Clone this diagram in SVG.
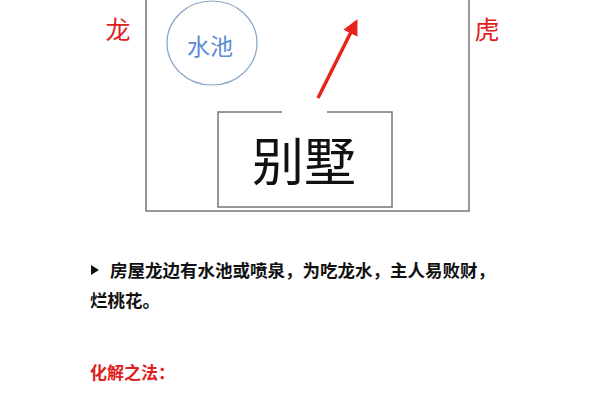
<svg xmlns="http://www.w3.org/2000/svg" width="600" height="400" viewBox="0 0 600 400">
<style>
.cjk{font-family:"Noto Sans CJK SC","Noto Sans CJK JP",sans-serif}
.red{fill:#e0201c}
.body{font-size:17.5px;fill:#111;font-weight:bold}
.box{fill:none;stroke:#777;stroke-width:1.5}
</style>
<defs>
<marker id="ah" viewBox="0 0 10 10" refX="8" refY="5" markerWidth="4.5" markerHeight="4.5" orient="auto">
<path d="M0,0 L10,5 L0,10 z" fill="#e8231c"/>
</marker>
</defs>
<rect width="600" height="400" fill="#fff"/>
<g id="plot">
<rect class="box" x="146" y="-5" width="323" height="216"/>
</g>
<g id="dragon"><text class="cjk red" x="118" y="39" font-size="25" text-anchor="middle">龙</text></g>
<g id="tiger"><text class="cjk red" x="487" y="39" font-size="25" text-anchor="middle">虎</text></g>
<g id="pool">
<ellipse cx="212" cy="43" rx="45" ry="42" fill="none" stroke="#8aa5c8" stroke-width="1.2"/>
<text class="cjk" x="210" y="55" font-size="23" fill="#5b8bd0" text-anchor="middle">水池</text>
</g>
<g id="villa">
<path class="box" d="M282,112 H218 V207 H392 V112 H327"/>
<text class="cjk" x="304" y="181" font-size="52" fill="#111" text-anchor="middle">别墅</text>
</g>
<g id="connectors">
<line x1="318" y1="98" x2="356" y2="22" stroke="#e8231c" stroke-width="3.5" marker-end="url(#ah)"/>
</g>
<g id="notes">
<path d="M91,265 L99,270 L91,275 z" fill="#111"/>
<text class="cjk body" x="110" y="277">房屋龙边有水池或喷泉，为吃龙水，主人易败财，</text>
<text class="cjk body" x="90" y="307">烂桃花。</text>
<text class="cjk red" x="90" y="379" font-size="17" font-weight="bold">化解之法：</text>
</g>
</svg>
